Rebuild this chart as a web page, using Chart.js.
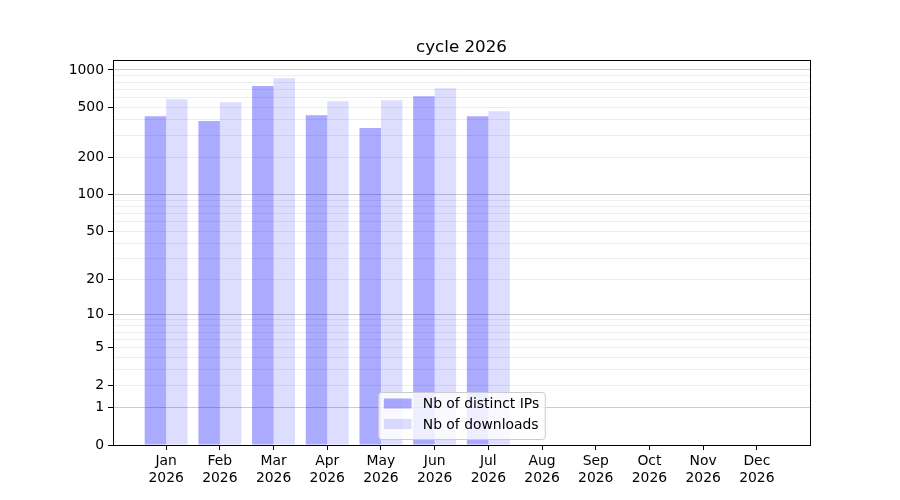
<!DOCTYPE html>
<html>
<head>
<meta charset="utf-8">
<script src="https://cdn.jsdelivr.net/npm/chart.js@4/dist/chart.umd.min.js"></script>
<style>
  html, body { margin: 0; padding: 0; background: #fff; }
  #wrap { width: 900px; height: 500px; }
</style>
</head>
<body>
<div id="wrap"><canvas id="chart" width="900" height="500"></canvas></div>
<script>
// Chart data
const months = ['Jan', 'Feb', 'Mar', 'Apr', 'May', 'Jun', 'Jul', 'Aug', 'Sep', 'Oct', 'Nov', 'Dec'];
const year = '2026';
const distinctIPs = [426, 389, 745, 434, 343, 616, 426];
const downloads = [583, 552, 858, 562, 572, 714, 467];

// y axis ticks (labelled ones, and every gridline)
const yTickLabels = [0, 1, 2, 5, 10, 20, 50, 100, 200, 500, 1000];
const yMajorLines = [1, 10, 100, 1000];
const yGridValues = [0, 1, 2, 3, 4, 5, 6, 7, 8, 9,
                     10, 20, 30, 40, 50, 60, 70, 80, 90,
                     100, 200, 300, 400, 500, 600, 700, 800, 900, 1000];

const FONT = 'DejaVu Sans';

// y scale where pixel position follows log10(1 + value)
class Log1pScale extends Chart.LinearScale {
    static id = 'log1p';
    static defaults = {};

    buildTicks() {
        return yGridValues.map(v => ({ value: v }));
    }

    configure() {
        super.configure();
        this._lmin = Math.log10(1 + this.min);
        this._lrange = Math.log10(1 + this.max) - this._lmin;
    }

    getPixelForValue(value) {
        if (value === null || value === undefined || isNaN(value)) return NaN;
        return this.getPixelForDecimal((Math.log10(1 + value) - this._lmin) / this._lrange);
    }

    getValueForPixel(pixel) {
        return Math.pow(10, this._lmin + this.getDecimalForPixel(pixel) * this._lrange) - 1;
    }
}
Chart.register(Log1pScale);

// Centre the title over the plot area instead of the whole canvas
const titleCenterPlugin = {
    id: 'titleCenter',
    afterLayout(chart) {
        if (chart.titleBlock) {
            chart.titleBlock.left = chart.chartArea.left;
            chart.titleBlock.right = chart.chartArea.right;
        }
    }
};

// Frame round the plot area
const framePlugin = {
    id: 'frame',
    afterDatasetsDraw(chart) {
        const a = chart.chartArea;
        const ctx = chart.ctx;
        ctx.save();
        ctx.strokeStyle = '#000';
        ctx.lineWidth = 1;
        ctx.strokeRect(Math.round(a.left) + 0.5, Math.round(a.top) + 0.5,
                       Math.round(a.right - a.left), Math.round(a.bottom - a.top));
        ctx.restore();
    }
};

// Legend box drawn inside the plot, lower centre
const boxLegendPlugin = {
    id: 'boxLegend',
    afterDraw(chart) {
        const a = chart.chartArea;
        const ctx = chart.ctx;
        const sets = chart.data.datasets;
        ctx.save();
        ctx.font = '13.9px "' + FONT + '"';
        let textW = 0;
        sets.forEach(ds => { textW = Math.max(textW, ctx.measureText(ds.label).width); });
        const pad = 5.6, handle = 27.8, gap = 11.1, rowH = 20.5;
        const w = pad + handle + gap + textW + pad;
        const h = 47;
        const x = (a.left + a.right) / 2 - w / 2;
        const y = a.bottom - 6 - h;

        ctx.beginPath();
        ctx.roundRect(x + 0.5, y + 0.5, w, h, 3);
        ctx.fillStyle = 'rgba(255,255,255,0.8)';
        ctx.fill();
        ctx.strokeStyle = '#cccccc';
        ctx.lineWidth = 1;
        ctx.stroke();

        ctx.textBaseline = 'middle';
        ctx.textAlign = 'left';
        sets.forEach((ds, i) => {
            const cy = y + 11.5 + i * rowH;
            ctx.fillStyle = ds.backgroundColor;
            ctx.fillRect(x + pad, cy - 5, handle, 10);
            ctx.fillStyle = '#000';
            ctx.fillText(ds.label, x + pad + handle + gap, cy + 1);
        });
        ctx.restore();
    }
};

new Chart(document.getElementById('chart'), {
    type: 'bar',
    data: {
        datasets: [{
            label: 'Nb of distinct IPs',
            data: distinctIPs.map((v, i) => ({ x: i, y: v })),
            backgroundColor: 'rgba(0,0,255,0.333)',
            borderWidth: 0,
            categoryPercentage: 0.8,
            barPercentage: 1.0
        }, {
            label: 'Nb of downloads',
            data: downloads.map((v, i) => ({ x: i, y: v })),
            backgroundColor: 'rgba(0,0,255,0.133)',
            borderWidth: 0,
            categoryPercentage: 0.8,
            barPercentage: 1.0
        }]
    },
    options: {
        responsive: false,
        animation: false,
        devicePixelRatio: 1,
        layout: { padding: { left: 0, right: 90, top: 0, bottom: 0 } },
        plugins: {
            legend: { display: false },
            tooltip: { enabled: false },
            title: {
                display: true,
                text: 'cycle ' + year,
                color: '#000',
                font: { family: FONT, size: 16.7, weight: 'normal' },
                padding: { top: 38, bottom: 2 }
            }
        },
        scales: {
            x: {
                type: 'linear',
                min: -0.99,
                max: 11.99,
                offset: false,
                afterBuildTicks: scale => {
                    scale.ticks = months.map((m, i) => ({ value: i }));
                },
                afterFit: scale => { scale.height = 55; },
                ticks: {
                    autoSkip: false,
                    maxRotation: 0,
                    padding: 3,
                    color: '#000',
                    font: { family: FONT, size: 13.9 },
                    callback: value => [months[value], year]
                },
                grid: {
                    offset: false,
                    drawOnChartArea: false,
                    drawTicks: true,
                    tickLength: 5,
                    tickColor: '#000',
                    tickWidth: 1
                },
                border: { display: false }
            },
            y: {
                type: 'log1p',
                min: 0,
                max: 1200,
                afterFit: scale => { scale.width = 113; },
                ticks: {
                    autoSkip: false,
                    padding: 4,
                    color: '#000',
                    font: { family: FONT, size: 13.9 },
                    callback: value => yTickLabels.includes(value) ? String(value) : ''
                },
                grid: {
                    drawTicks: true,
                    tickLength: 5,
                    tickWidth: 1,
                    tickColor: ctx => yTickLabels.includes(ctx.tick.value) ? '#000' : 'rgba(0,0,0,0)',
                    color: ctx => {
                        const v = ctx.tick.value;
                        if (v === 0) return 'rgba(0,0,0,0)';
                        return yMajorLines.includes(v) ? 'rgba(0,0,0,0.2)' : 'rgba(0,0,0,0.07)';
                    },
                    lineWidth: 1
                },
                border: { display: false }
            }
        }
    },
    plugins: [titleCenterPlugin, framePlugin, boxLegendPlugin]
});
</script>
</body>
</html>
